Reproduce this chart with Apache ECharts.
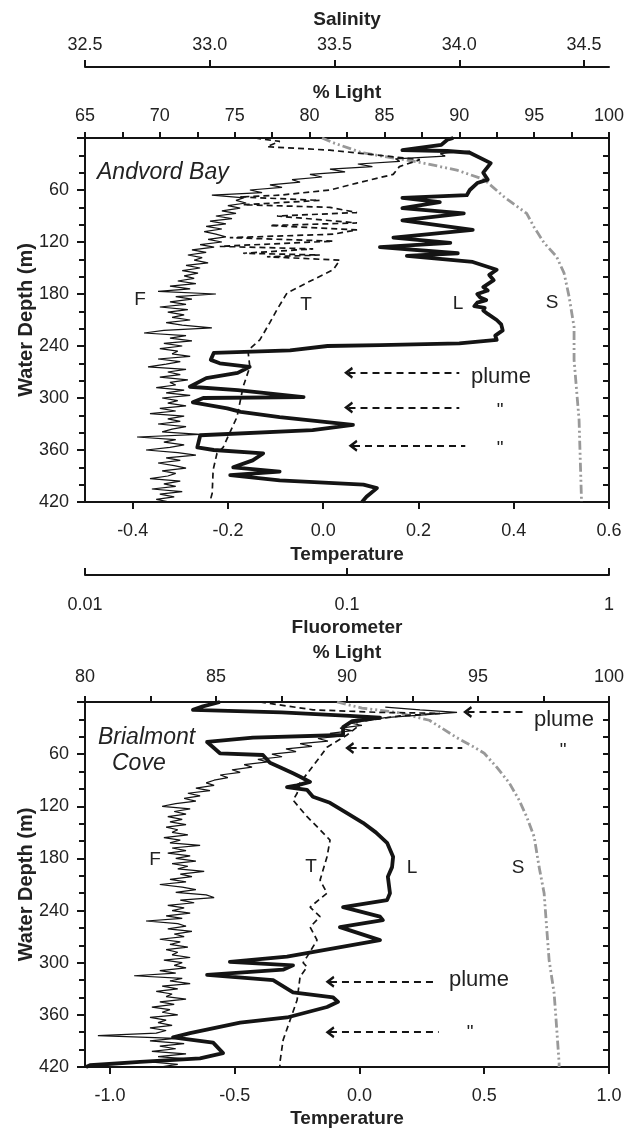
<!DOCTYPE html>
<html>
<head>
<meta charset="utf-8">
<script src="https://cdn.jsdelivr.net/npm/echarts@6/dist/echarts.min.js"></script>
<style>
html,body{margin:0;padding:0;background:#fff;}
#chart{width:628px;height:1129px;}
</style>
</head>
<body>
<div id="chart"></div>
<script>
// ---------------- DATA ----------------
// Tick labels
const salinityTicks = [32.5, 33.0, 33.5, 34.0, 34.5];
const andvordTempTicks = [-0.4, -0.2, 0.0, 0.2, 0.4, 0.6];
const brialmontTempTicks = [-1.0, -0.5, 0.0, 0.5, 1.0];

// Andvord Bay: [depth (m), value]
const andvordLight = [[0,89.6],[2,89.2],[8,88.8],[14,86.2],[15,89.2],[17,90.7],[29,92.1],[40,91.6],[48,91.9],[52,91.2],[60,90.7],[66,90.5],[69,86.2],[74,88.7],[81,86.2],[87,90.3],[95,86.2],[106,90.9],[115,85.6],[121,89.4],[126,84.7],[133,89.9],[136,86.5],[143,90.9],[152,92.5],[158,92.0],[164,92.3],[172,91.6],[176,91.9],[180,91.2],[184,91.4],[187,91.8],[190,91.2],[194,91.0],[196,91.7],[199,91.6],[203,91.9],[210,92.5],[215,92.8],[222,92.9],[228,92.4],[233,92.5],[237,90.0],[239,84.7],[240,81.2],[245,78.7],[246,77.2],[248,73.6],[256,73.4],[260,74.0],[264,76.0],[271,75.2],[277,73.1],[287,72.0],[291,75.2],[299,79.6],[300,72.9],[305,72.2],[312,74.5],[316,75.4],[322,78.0],[331,82.9],[337,80.2],[343,72.7],[357,72.5],[360,73.6],[364,76.9],[372,76.2],[380,74.9],[385,78.0],[389,74.7],[395,78.0],[400,83.6],[404,84.5],[414,83.8],[420,83.5]];
const andvordTemp = [[0,-0.143],[4,-0.091],[10,-0.118],[14,0.014],[20,0.119],[25,0.203],[33,0.160],[42,0.147],[52,0.071],[60,0.014],[66,-0.091],[68,-0.175],[72,-0.007],[77,-0.168],[80,0.014],[86,0.071],[90,-0.097],[98,0.071],[101,-0.112],[106,0.071],[111,0.021],[115,-0.196],[119,0.021],[125,-0.217],[128,-0.021],[133,-0.168],[135,-0.007],[137,-0.118],[141,0.035],[152,0.021],[167,-0.034],[179,-0.076],[198,-0.097],[213,-0.112],[233,-0.133],[245,-0.158],[264,-0.154],[287,-0.168],[322,-0.181],[340,-0.196],[357,-0.210],[364,-0.223],[383,-0.231],[410,-0.233],[420,-0.238]];
const andvordSalinity = [[0,33.45],[6,33.50],[17,33.61],[28,33.84],[37,33.99],[48,34.10],[68,34.18],[87,34.27],[103,34.30],[121,34.34],[137,34.39],[156,34.42],[183,34.44],[218,34.46],[256,34.46],[325,34.48],[420,34.49]];
// Fluorometer, sampled every 3 m from 15 m
const andvordFluorStart = 15;
const andvordFluor = [
0.295,0.227,0.237,0.153,0.159,0.110,0.125,0.0861,0.0983,0.0722,
0.0803,0.0617,0.0662,0.0508,0.0565,0.0426,0.0474,0.0305,0.0405,0.0377,
0.0412,0.0351,0.0391,0.0333,0.0377,0.0316,0.0364,0.0300,0.0345,0.0290,
0.0333,0.0285,0.0316,0.0345,0.0295,0.0333,0.0275,0.0311,0.0256,0.0290,
0.0247,0.0280,0.0261,0.0295,0.0243,0.0275,0.0235,0.0270,0.0239,0.0261,
0.0226,0.0265,0.0211,0.0252,0.0190,0.0316,0.0222,0.0256,0.0211,0.0243,
0.0193,0.0247,0.0207,0.0239,0.0215,0.0252,0.0204,0.0235,0.0305,0.0200,
0.0168,0.0243,0.0211,0.0256,0.0200,0.0235,0.0193,0.0226,0.0215,0.0252,
0.0190,0.0231,0.0204,0.0174,0.0243,0.0207,0.0231,0.0193,0.0247,0.0211,
0.0222,0.0187,0.0239,0.0204,0.0252,0.0197,0.0226,0.0207,0.0243,0.0193,
0.0222,0.0177,0.0239,0.0207,0.0231,0.0190,0.0243,0.0215,0.0197,0.0275,
0.0158,0.0222,0.0200,0.0239,0.0211,0.0171,0.0226,0.0265,0.0204,0.0231,
0.0190,0.0219,0.0243,0.0197,0.0222,0.0207,0.0177,0.0231,0.0200,0.0222,
0.0180,0.0235,0.0193,0.0219,0.0187,0.0211];

// Brialmont Cove: [depth (m), value]
const brialmontLight = [[0,85.15],[5,84.5],[9,84.12],[12,87.5],[16,90.11],[18,91.26],[22,90.2],[29,89.85],[38,89.85],[41,86.41],[46,84.66],[52,84.89],[59,85.15],[61,86.79],[70,87.06],[75,87.44],[82,87.94],[86,88.21],[92,88.59],[96,88.09],[98,87.71],[101,88.47],[109,88.70],[116,89.35],[128,90.0],[139,90.61],[150,91.1],[162,91.53],[178,91.76],[190,91.72],[201,91.56],[220,91.64],[228,91.53],[236,89.85],[247,91.26],[251,91.37],[259,89.73],[274,91.26],[293,87.71],[299,85.53],[303,87.94],[308,87.56],[314,84.66],[320,87.18],[334,87.94],[340,89.47],[345,89.66],[351,89.24],[363,87.71],[369,85.92],[381,84.01],[386,83.36],[392,84.89],[404,85.27],[410,84.39],[414,82.1],[418,80.19],[420,80.04]];
const brialmontTemp = [[0,-0.399],[9,-0.186],[12,0.082],[13,0.323],[16,0.162],[23,-0.010],[29,-0.010],[38,-0.050],[52,-0.130],[63,-0.158],[93,-0.238],[105,-0.250],[113,-0.266],[132,-0.210],[147,-0.158],[159,-0.118],[178,-0.130],[205,-0.158],[220,-0.130],[236,-0.198],[247,-0.158],[259,-0.198],[274,-0.170],[293,-0.210],[300,-0.226],[305,-0.210],[316,-0.238],[343,-0.250],[366,-0.278],[389,-0.306],[415,-0.319],[420,-0.319]];
const brialmontSalinity = [[0,33.51],[7,33.61],[12,33.75],[21,33.88],[41,33.99],[52,34.06],[59,34.10],[75,34.15],[93,34.20],[113,34.24],[132,34.27],[155,34.30],[190,34.32],[220,34.34],[259,34.35],[297,34.36],[335,34.38],[374,34.39],[415,34.40],[420,34.40]];
const brialmontFluorStart = 6;
const brialmontFluor = [
0.140,0.190,0.263,0.190,0.140,0.122,0.103,0.114,0.094,0.1045,
0.0861,0.0957,0.0775,0.0846,0.0662,0.0735,0.0585,0.0639,0.0517,0.0565,
0.0457,0.0499,0.0405,0.0434,0.0364,0.0391,0.0328,0.0351,0.0311,0.0290,
0.0311,0.0265,0.0300,0.0247,0.0275,0.0239,0.0265,0.0222,0.0197,0.0252,
0.0219,0.0243,0.0207,0.0235,0.0211,0.0243,0.0204,0.0226,0.0215,0.0247,
0.0200,0.0231,0.0211,0.0275,0.0215,0.0243,0.0207,0.0252,0.0222,0.0265,
0.0215,0.0247,0.0226,0.0285,0.0231,0.0256,0.0211,0.0243,0.0193,0.0235,
0.0265,0.0222,0.0290,0.0311,0.0231,0.0261,0.0207,0.0239,0.0215,0.0252,
0.0204,0.0235,0.0171,0.0226,0.0243,0.0207,0.0256,0.0219,0.0239,0.0193,
0.0231,0.0211,0.0247,0.0204,0.0226,0.0215,0.0252,0.0200,0.0235,0.0219,
0.0243,0.0193,0.0222,0.0154,0.0235,0.0211,0.0252,0.0197,0.0226,0.0187,
0.0215,0.0204,0.0243,0.0193,0.0219,0.0180,0.0211,0.0197,0.0226,0.0177,
0.0204,0.0190,0.0215,0.0177,0.0204,0.0187,0.0112,0.0222,0.0177,0.0239,
0.0193,0.0222,0.0180,0.0243,0.0190,0.0252,0.0177,0.0226,0.0193];
const fluorStep = 3;

// Plume arrows: [light at arrow tip, light at tail, depth]
const andvordArrows = [[82.6, 90.0, 271], [82.6, 90.0, 311], [82.9, 90.4, 355]];
const brialmontArrows = [[94.6, 96.7, 11.5], [90.1, 94.4, 53], [89.35, 93.45, 322], [89.35, 93.5, 380]];

// ---------------- CHART ----------------
const FONT = '"Liberation Sans", Arial, Helvetica, sans-serif';
const INK = '#141414';
const TXT = '#222';

function pairs(arr) { return arr.map(p => [p[1], p[0]]); }
function sampled(vals, start) { return vals.map((v, i) => [v, start + i * fluorStep]); }

function baseAxis(o) {
  const a = {
    type: 'value',
    axisLine: {show: true, onZero: false, lineStyle: {color: INK, width: 2}},
    axisTick: {show: true, inside: false, length: 7, lineStyle: {color: INK, width: 2}},
    minorTick: {show: false},
    splitLine: {show: false},
    minorSplitLine: {show: false},
    axisLabel: {color: TXT, fontSize: 18, fontFamily: FONT},
    nameLocation: 'middle',
    nameMoveOverlap: false,
    nameTextStyle: {color: TXT, fontSize: 19, fontWeight: 'bold', fontFamily: FONT}
  };
  for (const k in o) {
    if (o[k] && typeof o[k] === 'object' && !Array.isArray(o[k]) && a[k] && typeof a[k] === 'object') {
      a[k] = Object.assign({}, a[k], o[k]);
    } else a[k] = o[k];
  }
  return a;
}
const fmt1 = v => (+v).toFixed(1);

const xAxes = [
  // 0 panel1 % Light
  baseAxis({gridIndex: 0, position: 'top', min: 65, max: 100, interval: 5,
    axisTick: {length: 6}, minorTick: {show: true, splitNumber: 2, length: 6, lineStyle: {color: INK, width: 2}},
    axisLabel: {margin: 13}, name: '% Light', nameGap: 36}),
  // 1 panel1 Salinity
  baseAxis({gridIndex: 0, position: 'top', offset: 71, min: 32.5, max: 34.6,
    axisTick: {length: 7, customValues: salinityTicks},
    axisLabel: {margin: 13, customValues: salinityTicks, formatter: fmt1}, name: 'Salinity', nameGap: 38}),
  // 2 panel1 Temperature
  baseAxis({gridIndex: 0, position: 'bottom', min: -0.5, max: 0.6,
    axisTick: {length: 7, customValues: andvordTempTicks},
    axisLabel: {margin: 20, customValues: andvordTempTicks, formatter: fmt1}, name: 'Temperature', nameGap: 43}),
  // 3 panel1 Fluorometer (log)
  baseAxis({type: 'log', logBase: 10, gridIndex: 0, position: 'bottom', offset: 73, min: 0.01, max: 1,
    axisTick: {inside: true, length: 7},
    axisLabel: {margin: 21, formatter: v => String(+(+v).toPrecision(3))}, name: 'Fluorometer', nameGap: 43}),
  // 4 panel2 % Light
  baseAxis({gridIndex: 1, position: 'top', min: 80, max: 100, interval: 5,
    axisTick: {length: 6}, minorTick: {show: true, splitNumber: 2, length: 6, lineStyle: {color: INK, width: 2}},
    axisLabel: {margin: 16}, name: '% Light', nameGap: 40}),
  // 5 panel2 Temperature
  baseAxis({gridIndex: 1, position: 'bottom', min: -1.1, max: 1.0,
    axisTick: {length: 7, customValues: brialmontTempTicks},
    axisLabel: {margin: 20, customValues: brialmontTempTicks, formatter: fmt1}, name: 'Temperature', nameGap: 42}),
  // 6 panel2 Salinity (hidden, same scale as panel 1)
  {type: 'value', gridIndex: 1, show: false, min: 32.5, max: 34.6},
  // 7 panel2 Fluorometer (hidden, same scale as panel 1)
  {type: 'log', logBase: 10, gridIndex: 1, show: false, min: 0.01, max: 1}
];

function depthAxes(g) {
  return [
    baseAxis({gridIndex: g, position: 'left', inverse: true, min: 0, max: 420, interval: 60,
      axisTick: {length: 8}, minorTick: {show: true, splitNumber: 3, length: 6, lineStyle: {color: INK, width: 2}},
      axisLabel: {margin: 16, showMinLabel: false}, name: 'Water Depth (m)', nameGap: 49, nameRotate: 90,
      nameTextStyle: {fontSize: 20}}),
    baseAxis({gridIndex: g, position: 'right', inverse: true, min: 0, max: 420, interval: 60,
      axisTick: {inside: true, length: 6}, minorTick: {show: true, splitNumber: 3, length: 6, lineStyle: {color: INK, width: 2}},
      axisLabel: {show: false}})
  ];
}
const yAxes = depthAxes(0).concat(depthAxes(1));

const ARROW = 'path://M5,0 L10,8.4 L8.1,9.6 L5,4.6 L1.9,9.6 L0,8.4 Z';
function arrowLines(arr) {
  return {
    silent: true, animation: false,
    symbol: [ARROW, 'none'], symbolSize: [12, 9],
    label: {show: false},
    lineStyle: {color: INK, width: 1.8, type: [7, 5]},
    data: arr.map(a => [{coord: [a[0], a[2]]}, {coord: [a[1], a[2]]}])
  };
}

const lineBase = {type: 'line', showSymbol: false, symbol: 'none', animation: false, silent: true, z: 3};
const series = [
  // panel 1
  Object.assign({}, lineBase, {name: 'S1', xAxisIndex: 1, yAxisIndex: 0, data: pairs(andvordSalinity),
    lineStyle: {color: '#999999', width: 2.8, type: [9, 3, 2, 3, 2, 3]}}),
  Object.assign({}, lineBase, {name: 'F1', xAxisIndex: 3, yAxisIndex: 0, data: sampled(andvordFluor, andvordFluorStart),
    lineStyle: {color: INK, width: 1.2}}),
  Object.assign({}, lineBase, {name: 'T1', xAxisIndex: 2, yAxisIndex: 0, data: pairs(andvordTemp),
    lineStyle: {color: INK, width: 1.7, type: [6, 4]}}),
  Object.assign({}, lineBase, {name: 'L1', xAxisIndex: 0, yAxisIndex: 0, data: pairs(andvordLight),
    lineStyle: {color: INK, width: 3.8, join: 'round'}, markLine: arrowLines(andvordArrows)}),
  // panel 2
  Object.assign({}, lineBase, {name: 'S2', xAxisIndex: 6, yAxisIndex: 2, data: pairs(brialmontSalinity),
    lineStyle: {color: '#999999', width: 2.8, type: [9, 3, 2, 3, 2, 3]}}),
  Object.assign({}, lineBase, {name: 'F2', xAxisIndex: 7, yAxisIndex: 2, data: sampled(brialmontFluor, brialmontFluorStart),
    lineStyle: {color: INK, width: 1.2}}),
  Object.assign({}, lineBase, {name: 'T2', xAxisIndex: 5, yAxisIndex: 2, data: pairs(brialmontTemp),
    lineStyle: {color: INK, width: 1.7, type: [6, 4]}}),
  Object.assign({}, lineBase, {name: 'L2', xAxisIndex: 4, yAxisIndex: 2, data: pairs(brialmontLight),
    lineStyle: {color: INK, width: 3.8, join: 'round'}, markLine: arrowLines(brialmontArrows)})
];

// Text annotations (pixel placement of labels only)
function txt(t, x, y, size, style, align) {
  return {type: 'text', x: x, y: y, z: 10, silent: true,
    style: {text: t, fill: TXT, font: (style || '') + ' ' + size + 'px ' + FONT,
      align: align || 'center', verticalAlign: 'middle', textAlign: align || 'center', textVerticalAlign: 'middle'}};
}
const graphics = [
  txt('Andvord Bay', 97, 173, 23, 'italic', 'left'),
  txt('F', 140, 300, 19), txt('T', 306, 305, 19), txt('L', 458, 304, 19), txt('S', 552, 303, 19),
  txt('plume', 471, 377, 22, '', 'left'), txt('"', 500, 411, 19), txt('"', 500, 449, 19),
  txt('Brialmont', 98, 738, 23, 'italic', 'left'), txt('Cove', 112, 764, 23, 'italic', 'left'),
  txt('F', 155, 860, 19), txt('T', 311, 867, 19), txt('L', 412, 868, 19), txt('S', 518, 868, 19),
  txt('plume', 534, 720, 22, '', 'left'), txt('"', 563, 751, 19),
  txt('plume', 449, 980, 22, '', 'left'), txt('"', 470, 1033, 19)
];

const chart = echarts.init(document.getElementById('chart'), null, {renderer: 'canvas'});
chart.setOption({
  backgroundColor: '#ffffff',
  animation: false,
  grid: [
    {left: 85, width: 524, top: 138, height: 364, containLabel: false},
    {left: 85, width: 524, top: 702, height: 365, containLabel: false}
  ],
  xAxis: xAxes,
  yAxis: yAxes,
  series: series,
  graphic: graphics
});
</script>
</body>
</html>
